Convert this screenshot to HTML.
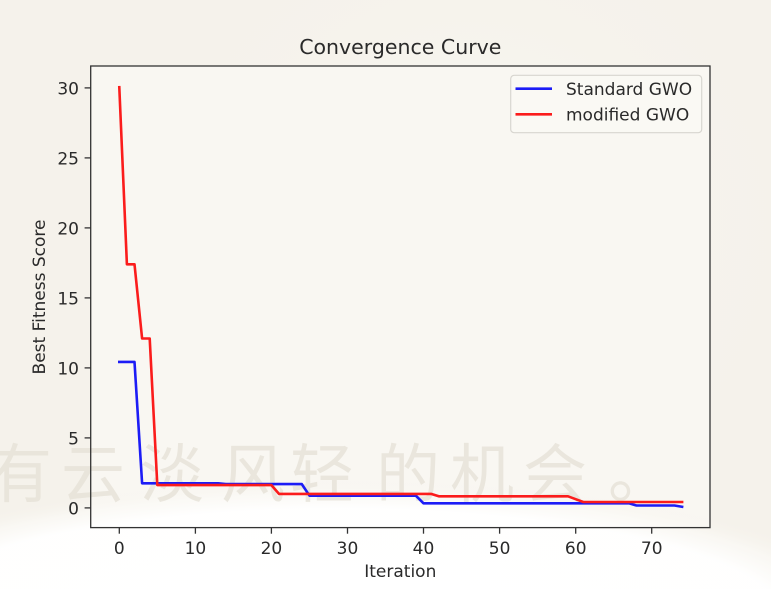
<!DOCTYPE html>
<html>
<head>
<meta charset="utf-8">
<style>
  html,body{margin:0;padding:0;}
  body{width:771px;height:589px;overflow:hidden;background:#f5f2eb;}
  svg{display:block;}
  .t{font-family:"DejaVu Sans","Liberation Sans",sans-serif;fill:#2a2a2a;}
</style>
</head>
<body>
<svg width="771" height="589" viewBox="0 0 771 589" xmlns="http://www.w3.org/2000/svg">
  <defs>
    <radialGradient id="sw" cx="340" cy="625" r="560" gradientUnits="userSpaceOnUse" gradientTransform="translate(340 625) scale(1 0.26) translate(-340 -625)">
      <stop offset="0" stop-color="#ffffff" stop-opacity="1"/>
      <stop offset="0.8" stop-color="#ffffff" stop-opacity="0.97"/>
      <stop offset="0.9" stop-color="#fcfbf8" stop-opacity="0.6"/>
      <stop offset="1" stop-color="#f5f2eb" stop-opacity="0"/>
    </radialGradient>
    <radialGradient id="tp" cx="470" cy="230" r="360" gradientUnits="userSpaceOnUse">
      <stop offset="0" stop-color="#fbfaf6" stop-opacity="0.8"/>
      <stop offset="1" stop-color="#f5f2eb" stop-opacity="0"/>
    </radialGradient>
  </defs>
  <rect x="0" y="0" width="771" height="589" fill="#f5f2eb"/>
  <rect x="0" y="0" width="771" height="589" fill="url(#tp)"/>
  <!-- axes face -->
  <rect x="90.7" y="66" width="619.3" height="461.6" fill="#f9f7f2"/>
  <rect x="0" y="0" width="771" height="589" fill="url(#sw)"/>

  <!-- watermark -->
  <g font-family="'Noto Sans CJK SC','WenQuanYi Zen Hei',sans-serif" font-size="64" fill="#e4e0d5" fill-opacity="0.75" text-anchor="middle">
    <text x="20" y="497">有</text>
    <text x="93" y="497">云</text>
    <text x="172" y="497">淡</text>
    <text x="253" y="497">风</text>
    <text x="322" y="497">轻</text>
    <text x="408" y="497">的</text>
    <text x="482" y="497">机</text>
    <text x="555" y="497">会</text>
    <text x="640" y="497">。</text>
  </g>

  <!-- series -->
  <polyline fill="none" stroke="#1c1cf6" stroke-width="2.6" stroke-linejoin="round" stroke-linecap="square"
    points="119.3,361.9 134.5,361.9 142.1,483.3 218.2,483.3 225.8,484.1 301.8,484.1 309.5,495.7 415.9,495.7 423.5,503.3 628.9,503.3 636.5,505.5 674.5,505.5 682.1,506.8"/>
  <polyline fill="none" stroke="#fb1c1c" stroke-width="2.6" stroke-linejoin="round" stroke-linecap="square"
    points="119.3,87.2 126.9,264.3 134.5,264.3 142.1,338.5 149.7,338.5 157.3,485.1 271.4,485.1 279.0,493.9 431.1,493.9 438.8,496.3 568.0,496.3 575.7,499.2 583.3,502.0 682.1,502.0"/>

  <!-- spines -->
  <rect x="90.7" y="66" width="619.3" height="461.6" fill="none" stroke="#333" stroke-width="1.3"/>

  <!-- y ticks -->
  <g stroke="#333" stroke-width="1.3">
    <line x1="84.6" y1="507.9" x2="90.7" y2="507.9"/>
    <line x1="84.6" y1="437.9" x2="90.7" y2="437.9"/>
    <line x1="84.6" y1="367.9" x2="90.7" y2="367.9"/>
    <line x1="84.6" y1="297.9" x2="90.7" y2="297.9"/>
    <line x1="84.6" y1="227.9" x2="90.7" y2="227.9"/>
    <line x1="84.6" y1="157.9" x2="90.7" y2="157.9"/>
    <line x1="84.6" y1="87.9" x2="90.7" y2="87.9"/>
  </g>
  <g class="t" font-size="17" text-anchor="end">
    <text x="79" y="514.3">0</text>
    <text x="79" y="444.3">5</text>
    <text x="79" y="374.3">10</text>
    <text x="79" y="304.3">15</text>
    <text x="79" y="234.3">20</text>
    <text x="79" y="164.3">25</text>
    <text x="79" y="94.3">30</text>
  </g>

  <!-- x ticks -->
  <g stroke="#333" stroke-width="1.3">
    <line x1="119.3" y1="527.6" x2="119.3" y2="533.7"/>
    <line x1="195.4" y1="527.6" x2="195.4" y2="533.7"/>
    <line x1="271.4" y1="527.6" x2="271.4" y2="533.7"/>
    <line x1="347.5" y1="527.6" x2="347.5" y2="533.7"/>
    <line x1="423.5" y1="527.6" x2="423.5" y2="533.7"/>
    <line x1="499.6" y1="527.6" x2="499.6" y2="533.7"/>
    <line x1="575.7" y1="527.6" x2="575.7" y2="533.7"/>
    <line x1="651.7" y1="527.6" x2="651.7" y2="533.7"/>
  </g>
  <g class="t" font-size="17" text-anchor="middle">
    <text x="119.3" y="554">0</text>
    <text x="195.4" y="554">10</text>
    <text x="271.4" y="554">20</text>
    <text x="347.5" y="554">30</text>
    <text x="423.5" y="554">40</text>
    <text x="499.6" y="554">50</text>
    <text x="575.7" y="554">60</text>
    <text x="651.7" y="554">70</text>
  </g>

  <!-- labels -->
  <text class="t" x="400.3" y="577" font-size="17" text-anchor="middle">Iteration</text>
  <text class="t" transform="translate(45,297) rotate(-90)" font-size="17" text-anchor="middle">Best Fitness Score</text>
  <text class="t" x="400.3" y="54" font-size="20.5" text-anchor="middle">Convergence Curve</text>

  <!-- legend -->
  <rect x="510.7" y="75.3" width="191" height="57.4" rx="3.5" ry="3.5" fill="#f9f8f4" fill-opacity="0.9" stroke="#d8d6d0" stroke-width="1.2"/>
  <line x1="515.5" y1="88.7" x2="552" y2="88.7" stroke="#1c1cf6" stroke-width="2.6"/>
  <line x1="515.5" y1="114.3" x2="552" y2="114.3" stroke="#fb1c1c" stroke-width="2.6"/>
  <text class="t" x="566" y="95" font-size="17">Standard GWO</text>
  <text class="t" x="566" y="120.6" font-size="17">modified GWO</text>
</svg>
</body>
</html>
